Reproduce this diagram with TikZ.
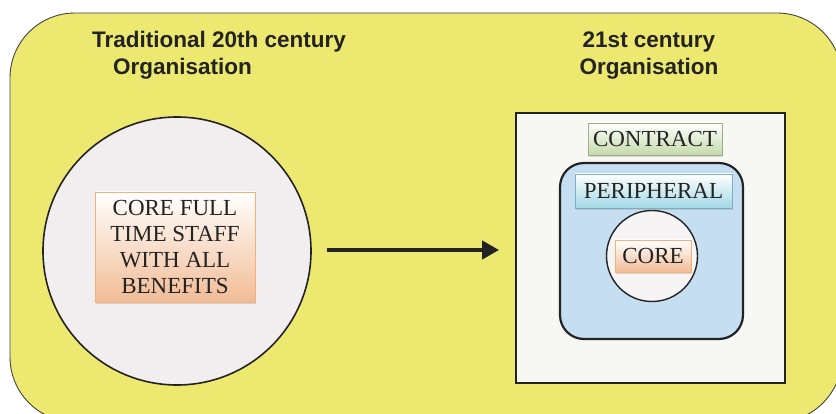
\documentclass[tikz,border=0pt]{standalone}
\usepackage{fontspec}
\setmainfont{Liberation Serif}
\newfontfamily\titlefont{Liberation Sans}
\usetikzlibrary{arrows.meta,shadows}
\definecolor{bgyellow}{RGB}{236,232,112}
\definecolor{circfill}{RGB}{242,237,238}
\definecolor{peach}{RGB}{242,188,150}
\definecolor{lgreen}{RGB}{196,218,170}
\definecolor{lcyan}{RGB}{160,216,230}
\definecolor{lblue}{RGB}{198,222,242}
\definecolor{sqfill}{RGB}{247,247,244}
\definecolor{ink}{RGB}{35,35,35}
\tikzset{
  titletext/.style={font=\titlefont\bfseries\fontsize{22.5}{27}\selectfont, text=ink, inner sep=0pt},
  labelbox/.style={font=\fontsize{23}{26}\selectfont, text=ink, inner sep=0pt, align=center,
     drop shadow={shadow xshift=1pt, shadow yshift=-2pt, opacity=0.25}},
  peachbox/.style={labelbox, top color=white, middle color=peach!35!white, bottom color=peach, draw=peach!80!orange, line width=0.4pt},
  greenbox/.style={labelbox, top color=white, middle color=lgreen!35!white, bottom color=lgreen, draw=lgreen!80!black, line width=0.3pt},
  cyanbox/.style={labelbox, top color=white, middle color=lcyan!35!white, bottom color=lcyan, draw=lcyan!80!black, line width=0.3pt},
  bigcirc/.style={circle, draw=ink, line width=1.6pt, inner sep=0pt},
}
\begin{document}
\begin{tikzpicture}[x=1pt,y=-1pt]
\useasboundingbox (0,0) rectangle (836,414);
\fill[white] (0,0) rectangle (836,414);
% outer yellow panel
\draw[fill=bgyellow, draw=ink!85, line width=0.9pt, rounded corners=65pt] (10,13) rectangle (842,422);

% titles
\node[titletext, anchor=base west] (t1a) at (92,48) {Traditional 20th century};
\node[titletext, anchor=base west] (t1b) at (113,75) {Organisation};
\node[titletext, anchor=base] (t2a) at (649,48) {21st century};
\node[titletext, anchor=base] (t2b) at (649,75) {Organisation};

% left circle
\node[bigcirc, fill=circfill, minimum size=268pt] (leftcirc) at (177,251) {};
\node[peachbox, minimum width=160pt, minimum height=110pt] (corefull) at (175,247)
  {CORE FULL\\TIME STAFF\\WITH ALL\\BENEFITS};

% right square
\node[draw=ink, line width=1.8pt, fill=sqfill, minimum width=269pt, minimum height=270pt, inner sep=0pt] (square) at (650.5,248) {};
\node[greenbox, minimum width=134pt, minimum height=32pt] (contract) at (655,139) {CONTRACT};
\node[draw=ink, line width=2.2pt, fill=lblue, rounded corners=24pt, minimum width=183pt, minimum height=176pt, inner sep=0pt] (periph) at (651.5,251) {};
\node[cyanbox, minimum width=157pt, minimum height=34pt] (periphlabel) at (653.5,191) {PERIPHERAL};
\node[bigcirc, fill=circfill!60!white, line width=1.4pt, minimum size=91pt] (corecirc) at (652,256) {};
\node[peachbox, minimum width=76pt, minimum height=32pt] (core) at (653,256) {CORE};

% arrow
\draw[ink, line width=4pt, -{Triangle[length=17pt,width=18pt]}, shorten <=15pt, shorten >=16pt]
  (leftcirc.east |- 0,250) -- (square.west |- 0,250);
\end{tikzpicture}
\end{document}
